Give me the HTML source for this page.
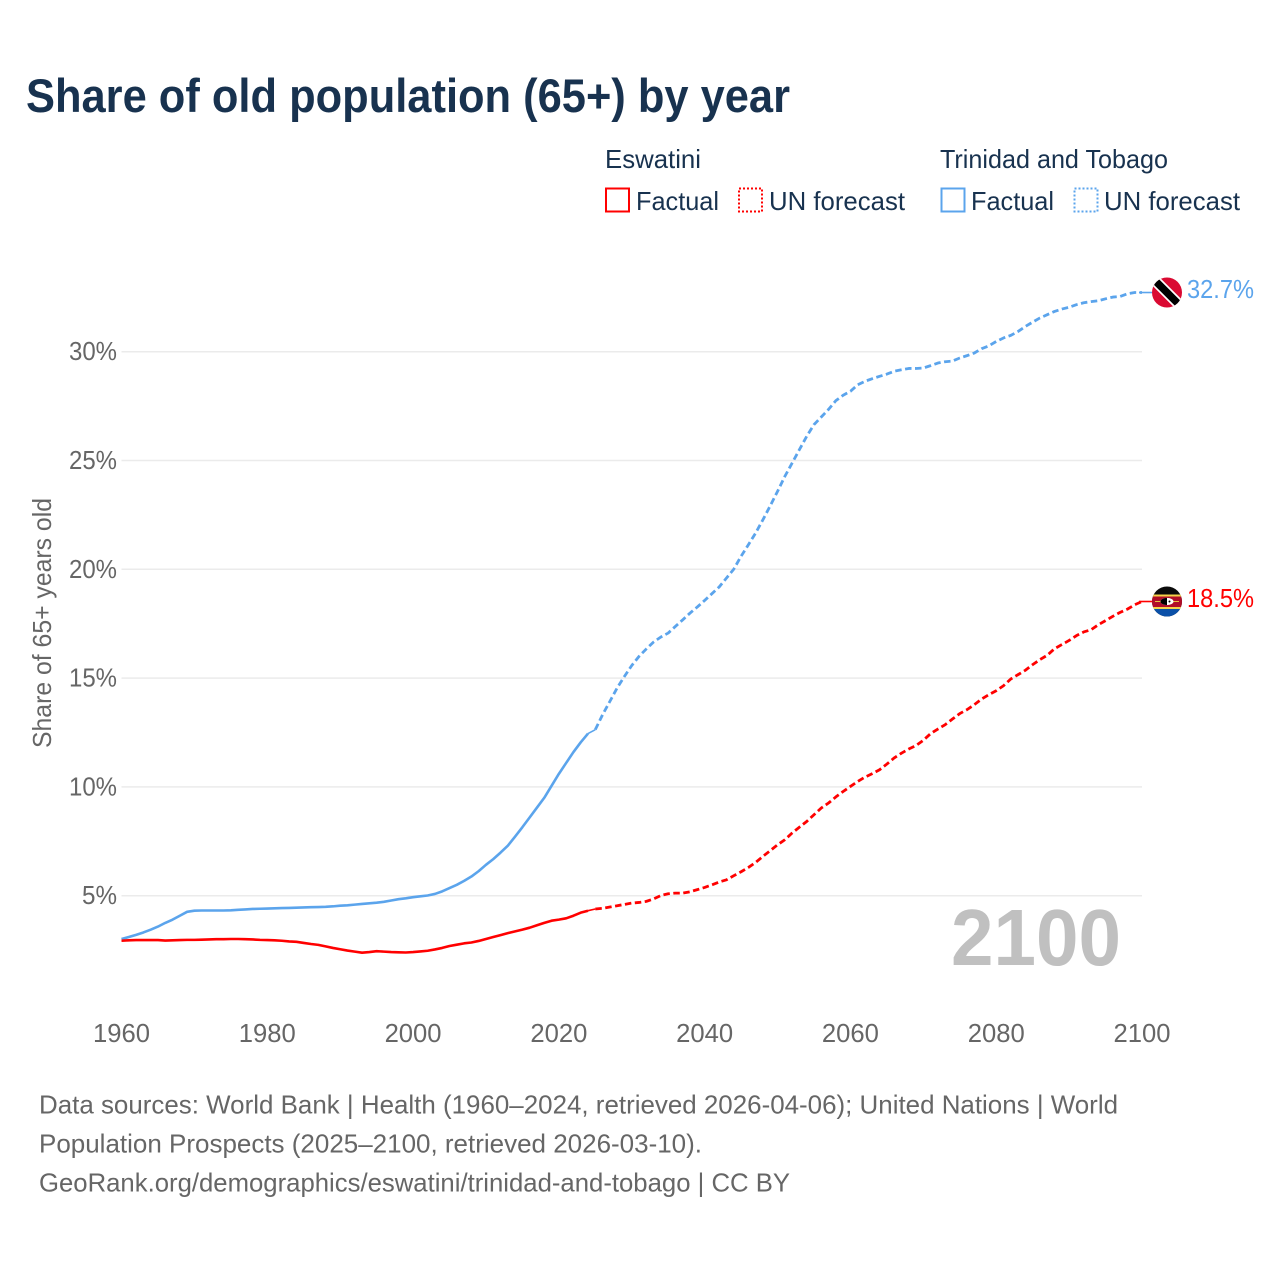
<!DOCTYPE html>
<html lang="en">
<head>
<meta charset="utf-8">
<title>Share of old population (65+) by year</title>
<style>
html,body{margin:0;padding:0;background:#fff;width:1280px;height:1280px;overflow:hidden}
svg{display:block}
text{font-family:"Liberation Sans",sans-serif}
</style>
</head>
<body>
<svg id="chart" width="1280" height="1280" viewBox="0 0 1280 1280" xmlns="http://www.w3.org/2000/svg">
  <defs>
    <clipPath id="flag-clip"><circle cx="0" cy="0" r="15"/></clipPath>
  </defs>
  <rect x="0" y="0" width="1280" height="1280" fill="#ffffff"/>

  <text x="26" y="112" font-size="47" font-weight="700" fill="#18324f" textLength="764" lengthAdjust="spacingAndGlyphs">Share of old population (65+) by year</text>

  <g font-size="26" fill="#18324f">
    <text x="605" y="168" textLength="96" lengthAdjust="spacingAndGlyphs">Eswatini</text>
    <rect x="606" y="188.5" width="23" height="23" fill="none" stroke="#ff0000" stroke-width="2"/>
    <text x="636" y="210" textLength="83" lengthAdjust="spacingAndGlyphs">Factual</text>
    <rect x="739" y="188.5" width="23" height="23" fill="none" stroke="#ff0000" stroke-width="2" stroke-dasharray="2 2"/>
    <text x="769" y="210" textLength="136" lengthAdjust="spacingAndGlyphs">UN forecast</text>

    <text x="940" y="168" textLength="228" lengthAdjust="spacingAndGlyphs">Trinidad and Tobago</text>
    <rect x="941.5" y="188.5" width="23" height="23" fill="none" stroke="#5ba4ec" stroke-width="2"/>
    <text x="971" y="210" textLength="83" lengthAdjust="spacingAndGlyphs">Factual</text>
    <rect x="1074.5" y="188.5" width="23" height="23" fill="none" stroke="#5ba4ec" stroke-width="2" stroke-dasharray="2 2"/>
    <text x="1104" y="210" textLength="136" lengthAdjust="spacingAndGlyphs">UN forecast</text>
  </g>

  <g id="grid"></g>
  <g id="y-ticks"></g>
  <g id="x-ticks"></g>

  <text transform="translate(51,748) rotate(-90)" font-size="26" fill="#666666" textLength="250" lengthAdjust="spacingAndGlyphs">Share of 65+ years old</text>

  <text x="951" y="965" font-size="80" font-weight="700" fill="#c0c0c0" textLength="170" lengthAdjust="spacingAndGlyphs">2100</text>

  <g id="series"></g>

  <g id="flag-trinidad">
    <g clip-path="url(#flag-clip)">
      <rect x="-16" y="-16" width="32" height="32" fill="#da0a32"/>
      <line x1="-16" y1="-16" x2="16" y2="16" stroke="#ffffff" stroke-width="11"/>
      <line x1="-16" y1="-16" x2="16" y2="16" stroke="#000000" stroke-width="7.5"/>
    </g>
  </g>
  <g id="flag-eswatini">
    <g clip-path="url(#flag-clip)">
      <rect x="-16" y="-16" width="32" height="32" fill="#0b0b0b"/>
      <rect x="-16" y="-7" width="32" height="2" fill="#f5d24a"/>
      <rect x="-16" y="-5" width="32" height="10.5" fill="#b10d28"/>
      <rect x="-16" y="5.5" width="32" height="2" fill="#f5d24a"/>
      <rect x="-16" y="7.5" width="32" height="9" fill="#0a50a8"/>
      <rect x="-12" y="-0.5" width="24" height="1" fill="#e8c040"/>
      <ellipse cx="0" cy="0" rx="6.5" ry="3.6" fill="#ffffff"/>
      <path d="M-6.5 0 A6.5 3.6 0 0 1 0 -3.6 L0 3.6 A6.5 3.6 0 0 1 -6.5 0Z" fill="#000000"/>
      <circle cx="2.5" cy="0" r="1" fill="#000000"/>
    </g>
  </g>

  <g font-size="26" fill="#666666">
    <text x="39" y="1113.5" textLength="1079" lengthAdjust="spacingAndGlyphs">Data sources: World Bank | Health (1960–2024, retrieved 2026-04-06); United Nations | World</text>
    <text x="39" y="1152.5" textLength="663" lengthAdjust="spacingAndGlyphs">Population Prospects (2025–2100, retrieved 2026-03-10).</text>
    <text x="39" y="1191.5" textLength="751" lengthAdjust="spacingAndGlyphs">GeoRank.org/demographics/eswatini/trinidad-and-tobago | CC BY</text>
  </g>
</svg>

<script>
const xTickLabels = [1960, 1980, 2000, 2020, 2040, 2060, 2080, 2100];
const yTickLabels = [5, 10, 15, 20, 25, 30];
const factualStartYear = 1960;
const forecastStartYear = 2024;

const trinidadFactual = [
  3.01,3.10,3.20,3.31,3.44,3.58,3.75,3.90,4.08,4.26,
  4.31,4.32,4.32,4.32,4.32,4.33,4.35,4.37,4.39,4.40,
  4.41,4.42,4.43,4.44,4.45,4.46,4.47,4.48,4.49,4.51,
  4.54,4.56,4.59,4.62,4.65,4.68,4.72,4.78,4.84,4.88,
  4.93,4.97,5.01,5.08,5.20,5.35,5.50,5.68,5.88,6.13,
  6.42,6.68,6.98,7.30,7.72,8.15,8.60,9.05,9.50,10.05,
  10.60,11.10,11.60,12.05,12.45
];
const trinidadForecast = [
  12.45,
  12.63,13.32,13.93,14.55,15.08,15.58,
  16.00,16.34,16.66,16.89,17.07,17.38,17.68,17.99,18.27,18.57,
  18.88,19.19,19.60,20.01,20.60,21.13,21.67,22.28,22.92,23.58,
  24.27,24.88,25.50,26.11,26.65,27.00,27.35,27.75,28.00,28.18,
  28.48,28.64,28.76,28.87,28.97,29.10,29.17,29.23,29.23,29.25,
  29.36,29.48,29.54,29.57,29.71,29.82,29.94,30.14,30.27,30.47,
  30.63,30.75,30.93,31.16,31.36,31.55,31.70,31.85,31.96,32.04,
  32.16,32.25,32.30,32.34,32.43,32.51,32.54,32.66,32.72,32.72
];
const eswatiniFactual = [
  2.93,2.95,2.96,2.96,2.96,2.96,2.94,2.95,2.96,2.97,
  2.97,2.98,2.99,3.00,3.00,3.01,3.01,3.00,2.99,2.97,
  2.96,2.95,2.93,2.90,2.88,2.83,2.78,2.74,2.67,2.60,
  2.54,2.48,2.43,2.38,2.41,2.45,2.43,2.41,2.40,2.39,
  2.41,2.44,2.47,2.53,2.60,2.69,2.75,2.81,2.85,2.92,
  3.01,3.10,3.19,3.28,3.36,3.44,3.53,3.64,3.75,3.85,
  3.90,3.96,4.08,4.22,4.31
];
const eswatiniForecast = [
  4.31,
  4.39,4.42,4.48,4.54,4.60,4.66,
  4.69,4.74,4.85,5.01,5.09,5.12,5.12,5.18,5.28,5.38,
  5.50,5.63,5.73,5.92,6.10,6.30,6.53,6.81,7.07,7.34,
  7.57,7.88,8.15,8.41,8.72,9.03,9.26,9.54,9.79,10.02,
  10.25,10.45,10.61,10.79,11.05,11.33,11.55,11.74,11.90,12.14,
  12.45,12.66,12.86,13.12,13.37,13.55,13.78,14.04,14.24,14.42,
  14.65,14.96,15.16,15.36,15.62,15.85,16.05,16.35,16.54,16.73,
  16.95,17.12,17.22,17.45,17.64,17.84,18.02,18.17,18.37,18.52
];

const NS = 'http://www.w3.org/2000/svg';
const X_LEFT = 121.5, X_RIGHT = 1142, Y_ZERO = 1004.5, PX_PER_PCT = 21.76;
const YEAR_MIN = 1960, YEAR_MAX = 2100;
const BLUE = '#5ba4ec', RED = '#ff0000';

function xScale(year) { return X_LEFT + (year - YEAR_MIN) * (X_RIGHT - X_LEFT) / (YEAR_MAX - YEAR_MIN); }
function yScale(v) { return Y_ZERO - v * PX_PER_PCT; }

function make(tag, attrs, parent) {
  const el = document.createElementNS(NS, tag);
  for (const k in attrs) el.setAttribute(k, attrs[k]);
  parent.appendChild(el);
  return el;
}
function pathFrom(values, startYear, from, to) {
  let d = '';
  for (let i = from; i <= to; i++) {
    d += (i === from ? 'M' : 'L') + xScale(startYear + i).toFixed(2) + ' ' + yScale(values[i]).toFixed(2);
  }
  return d;
}

const gridG = document.getElementById('grid');
const yG = document.getElementById('y-ticks');
yTickLabels.forEach(function (v) {
  const line = make('line', {x1: X_LEFT, x2: X_RIGHT, y1: yScale(v), y2: yScale(v), stroke: '#ebebeb', 'stroke-width': 1.5}, gridG);
  
  
  const t = make('text', {x: 117, y: yScale(v) + 8.5, 'text-anchor': 'end', 'font-size': 26, fill: '#666666', textLength: v < 10 ? 35 : 48, lengthAdjust: 'spacingAndGlyphs'}, yG);
  t.textContent = v + '%';
  
  
});

const xG = document.getElementById('x-ticks');
xTickLabels.forEach(function (year) {
  const t = make('text', {x: xScale(year) - 28.5, y: 1042, 'font-size': 26, fill: '#666666', textLength: 57, lengthAdjust: 'spacingAndGlyphs'}, xG);
  t.textContent = year;
  
  
});

const seriesG = document.getElementById('series');
function drawSeries(key, factual, forecast, color) {
  const solid = make('path', {d: pathFrom(factual, factualStartYear, 0, factual.length - 1), fill: 'none', stroke: color, 'stroke-width': 2.6, 'stroke-linejoin': 'round'}, seriesG);
  
  

  const n = forecast.length - 1;
  const dashed = make('path', {d: pathFrom(forecast, forecastStartYear, 1, n), fill: 'none', stroke: color, 'stroke-width': 2.8, 'stroke-dasharray': '6.5 3.5', 'stroke-linejoin': 'round'}, seriesG);
  
  

  const lead = make('path', {d: pathFrom(forecast, forecastStartYear, 0, 1), fill: 'none', stroke: color, 'stroke-width': 1.6}, seriesG);
  
  

  const endX = xScale(forecastStartYear + n), endY = yScale(forecast[n]);
  const tail = make('line', {x1: endX - 3, y1: endY, x2: endX + 10, y2: endY, stroke: color, 'stroke-width': 1.6}, seriesG);
  
  

  const label = make('text', {x: 1187, y: endY + 5.5, 'font-size': 26, fill: color, textLength: 67, lengthAdjust: 'spacingAndGlyphs'}, seriesG);
  label.textContent = forecast[n].toFixed(1) + '%';
  
  

  document.getElementById('flag-' + key).setAttribute('transform', 'translate(1167,' + endY.toFixed(2) + ')');
}
drawSeries('trinidad', trinidadFactual, trinidadForecast, BLUE);
drawSeries('eswatini', eswatiniFactual, eswatiniForecast, RED);
</script>
</body>
</html>
